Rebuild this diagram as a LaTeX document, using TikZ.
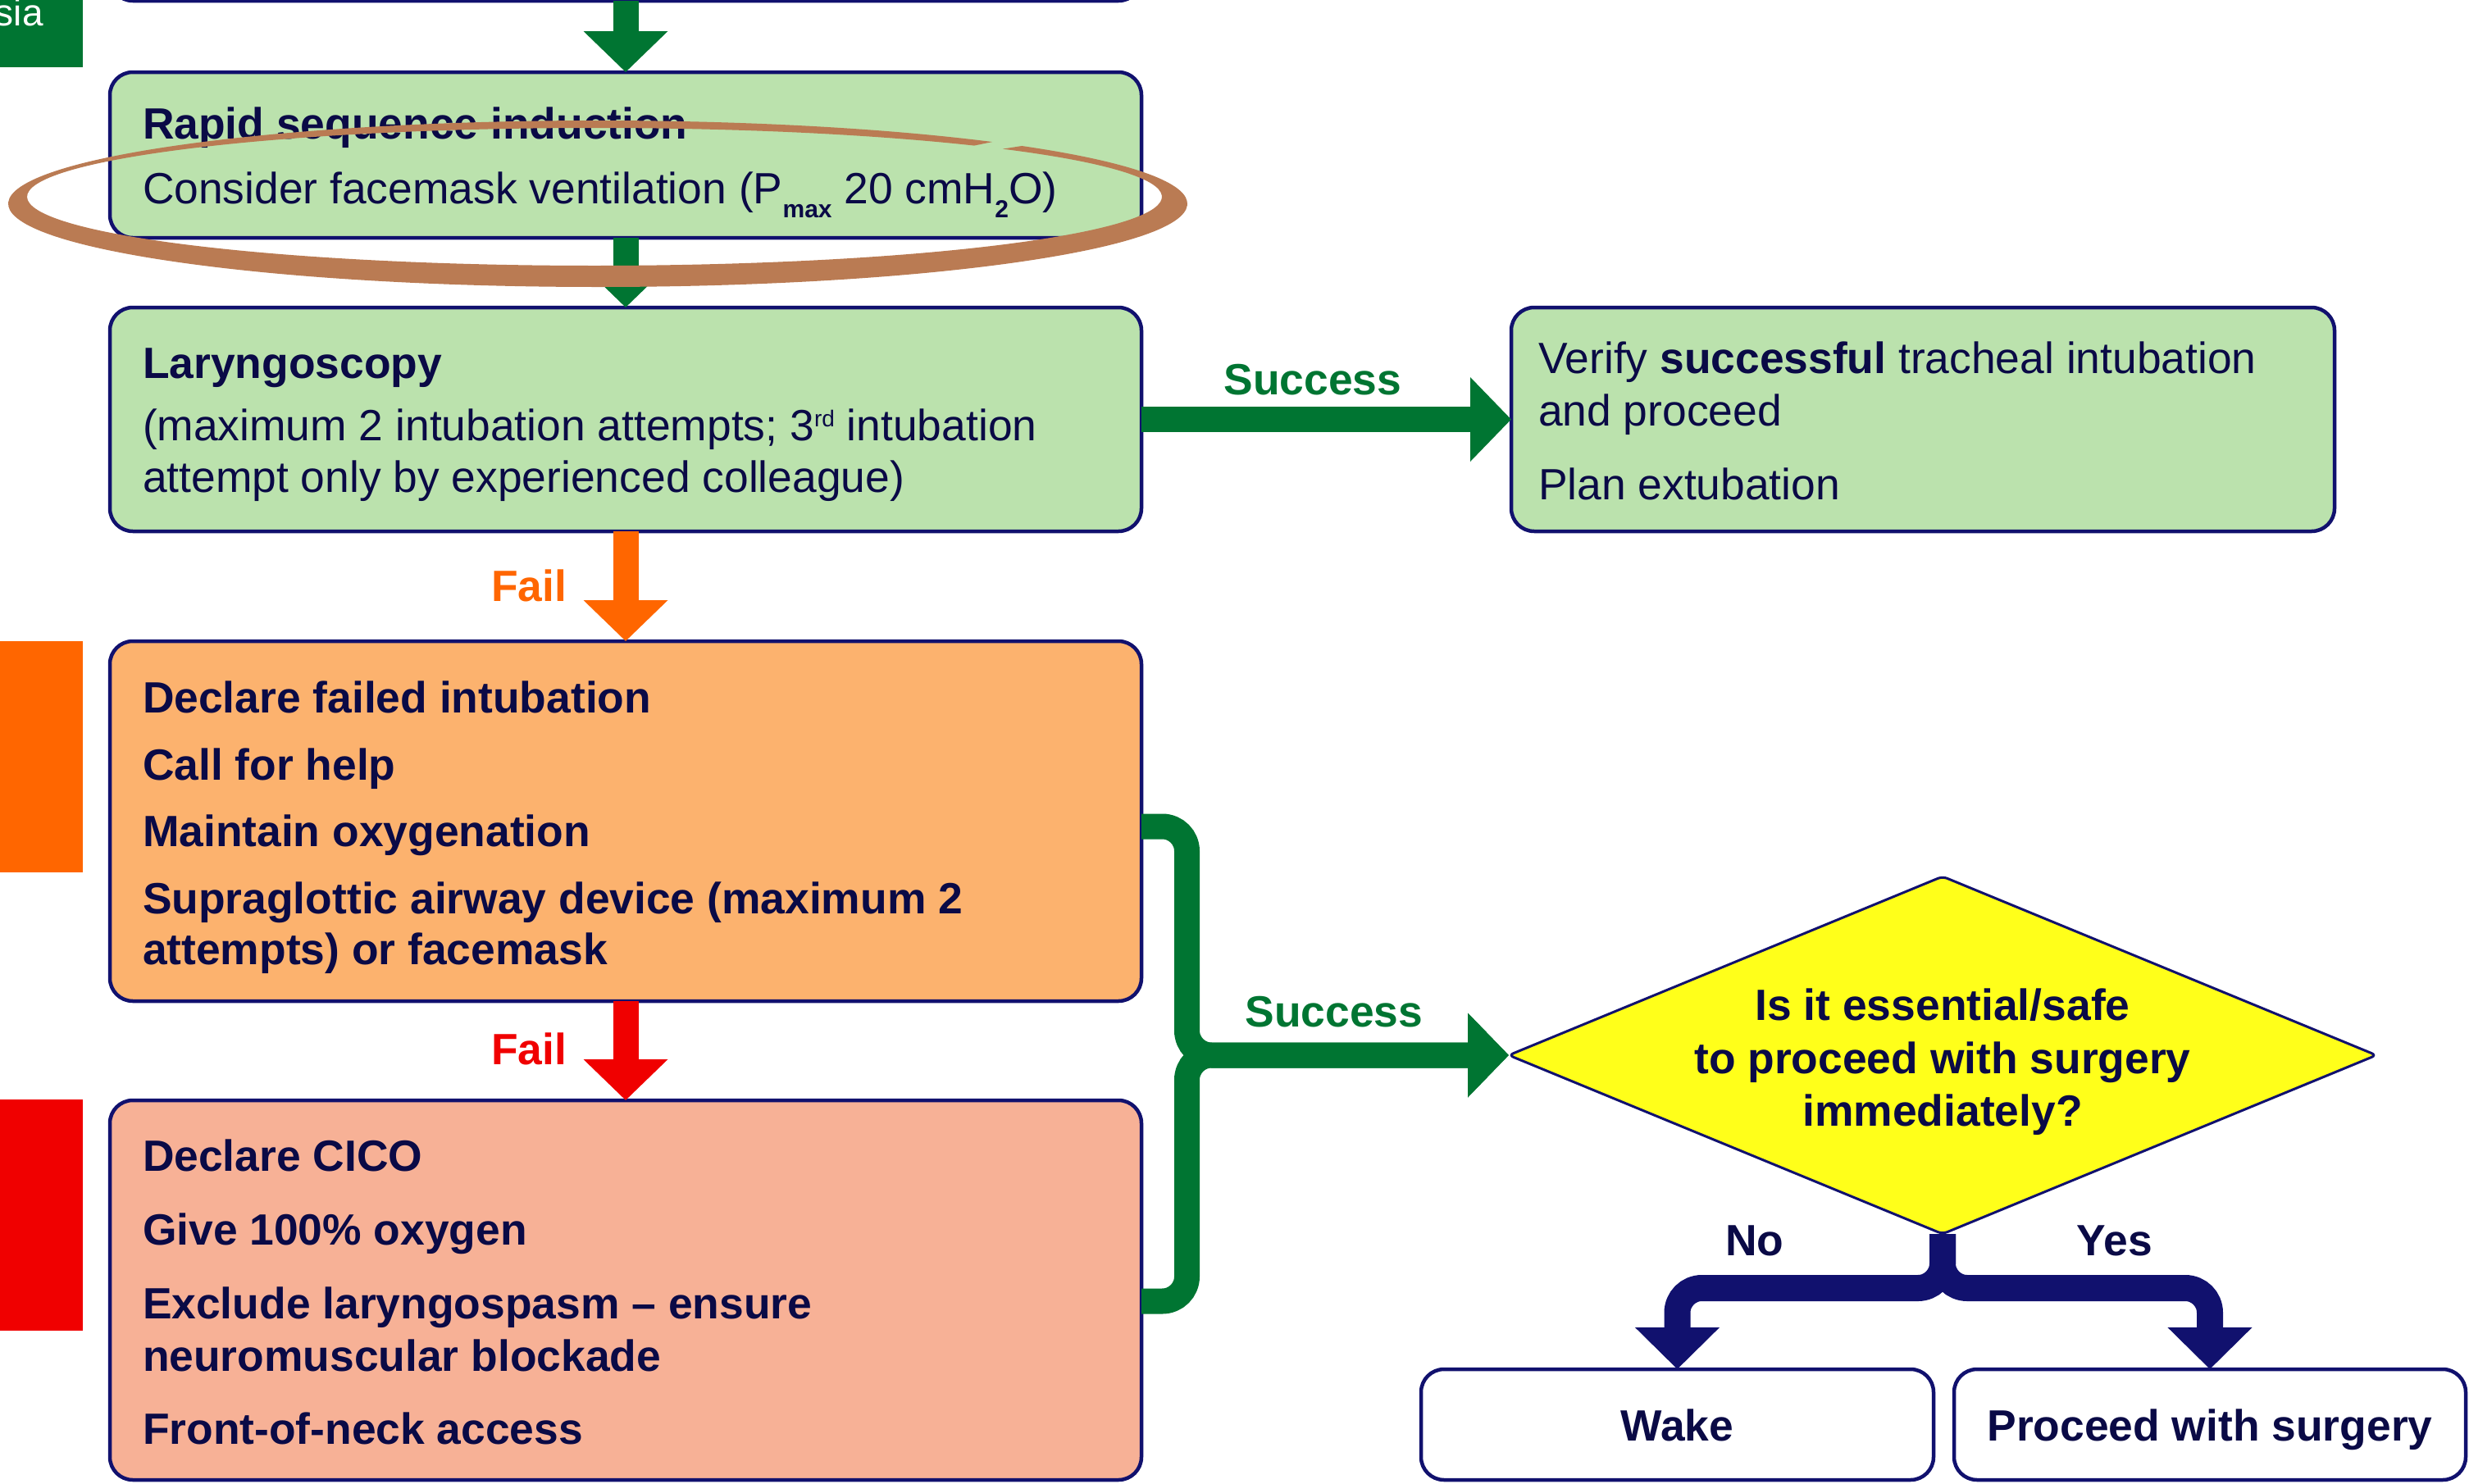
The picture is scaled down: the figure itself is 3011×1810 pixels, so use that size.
\documentclass[tikz,border=0pt]{standalone}
\usepackage{fontspec}
\setmainfont{Liberation Sans}
\usetikzlibrary{arrows.meta,shapes.geometric}
\definecolor{navy}{HTML}{11116E}
\definecolor{ink}{HTML}{0A0A46}
\definecolor{dkgreen}{HTML}{007532}
\definecolor{ltgreen}{HTML}{BBE2AD}
\definecolor{ltorange}{HTML}{FCB26E}
\definecolor{salmon}{HTML}{F7B196}
\definecolor{orng}{HTML}{FF6600}
\definecolor{redc}{HTML}{F00000}
\definecolor{yllw}{HTML}{FFFF1A}
\definecolor{brwn}{HTML}{BA7B53}
\newcommand\bodyfont{\fontsize{26.7pt}{32pt}\selectfont}
\newcommand\lowsub[1]{\raisebox{-8.5pt}{\fontsize{15pt}{15pt}\selectfont\bfseries #1}}
\newcommand\highsup[1]{\raisebox{8.5pt}{\fontsize{14pt}{14pt}\selectfont #1}}
\begin{document}
\begin{tikzpicture}[x=0.5pt,y=-0.5pt,
  box/.style={draw=navy, line width=2.25pt, rounded corners=14pt, inner sep=0pt, outer sep=0pt},
  txt/.style={anchor=base west, inner sep=0pt, outer sep=0pt, text=ink, font=\bodyfont},
  txtb/.style={txt, font=\bodyfont\bfseries},
  ctxt/.style={txtb, anchor=base},
  lbl/.style={inner sep=0pt, outer sep=0pt, font=\bodyfont\bfseries},
  garr/.style={draw=dkgreen, line width=15.5pt, -{Triangle[width=50pt,length=25pt]}},
  oarr/.style={draw=orng, line width=15.5pt, -{Triangle[width=50pt,length=25pt]}},
  rarr/.style={draw=redc, line width=15.5pt, -{Triangle[width=50pt,length=25pt]}},
  narr/.style={draw=navy, line width=16pt, rounded corners=15pt, -{Triangle[width=50pt,length=25.5pt]}}
]
\clip (0,0) rectangle (3011,1810);

% side bars
\fill[dkgreen] (0,0) rectangle (101,82);
\fill[orng] (0,782) rectangle (101,1064);
\fill[redc] (0,1341) rectangle (101,1623);
\node[anchor=base east, text=white, inner sep=0pt, font=\fontsize{23pt}{23pt}\selectfont] (sia) at (53,31) {sia};

% boxes
\node[box, fill=ltgreen, minimum width=629pt, minimum height=151pt] (top) at (763,-150) {};
\node[box, fill=ltgreen, minimum width=629pt, minimum height=101pt] (rsi) at (763,189) {};
\node[box, fill=ltgreen, minimum width=629pt, minimum height=136.5pt] (lar) at (763,511.5) {};
\node[box, fill=ltgreen, minimum width=502pt, minimum height=136.5pt] (ver) at (2345,511.5) {};
\node[box, fill=ltorange, minimum width=629pt, minimum height=219.5pt] (fail) at (763,1001.5) {};
\node[box, fill=salmon, minimum width=629pt, minimum height=231.5pt] (cico) at (763,1573.5) {};
\node[box, fill=white, minimum width=312.5pt, minimum height=67.5pt] (wake) at (2045.5,1737.5) {};
\node[box, fill=white, minimum width=312pt, minimum height=67.5pt] (surg) at (2695,1737.5) {};
\node[diamond, draw=navy, fill=yllw, line width=1.5pt, rounded corners=3pt,
      minimum width=529pt, minimum height=218pt, inner sep=0pt, outer sep=0pt] (q) at (2369,1287) {};

% texts
\node[txtb] (rsi1) at (174,169) {Rapid sequence induction};
\node[txt] (rsi2) at (174,248) {Consider facemask ventilation (P\lowsub{max} 20 cmH\lowsub{2}O)};

\node[txtb] (lar1) at (174,461) {Laryngoscopy};
\node[txt] (lar2) at (174,537) {(maximum 2 intubation attempts; 3\highsup{rd} intubation};
\node[txt] (lar3) at (174,600) {attempt only by experienced colleague)};

\node[txt] (ver1) at (1876,455) {Verify \textbf{successful} tracheal intubation};
\node[txt] (ver2) at (1876,519) {and proceed};
\node[txt] (ver3) at (1876,609) {Plan extubation};

\node[txtb] (fail1) at (174,869) {Declare failed intubation};
\node[txtb] (fail2) at (174,951) {Call for help};
\node[txtb] (fail3) at (174,1032) {Maintain oxygenation};
\node[txtb] (fail4) at (174,1114) {Supraglottic airway device (maximum 2};
\node[txtb] (fail5) at (174,1176) {attempts) or facemask};

\node[txtb] (cico1) at (174,1428) {Declare CICO};
\node[txtb] (cico2) at (174,1518) {Give 100\% oxygen};
\node[txtb] (cico3) at (174,1608) {Exclude laryngospasm – ensure};
\node[txtb] (cico4) at (174,1672) {neuromuscular blockade};
\node[txtb] (cico5) at (174,1761) {Front-of-neck access};

\node[ctxt] (q1) at (2369,1244) {Is it essential/safe};
\node[ctxt] (q2) at (2369,1309) {to proceed with surgery};
\node[ctxt] (q3) at (2369,1373) {immediately?};

\node[ctxt] (wake1) at (2045.5,1757) {Wake};
\node[ctxt] (surg1) at (2695,1757) {Proceed with surgery};

% connectors
\draw[garr] (top.south) -- (rsi.north);
\draw[garr] (rsi.south) -- (lar.north);
\draw[garr] (lar.east) -- (ver.west);
\draw[oarr] (lar.south) -- (fail.north);
\draw[rarr] (fail.south) -- (cico.north);
\draw[garr, rounded corners=15pt] ([yshift=-3.25pt]fail.east) -| (1447.5,1287) -- (q.west);
\draw[garr, rounded corners=15pt] ([yshift=-6.75pt]cico.east) -| (1447.5,1287) -- (q.west);
\draw[narr] (q.south) -- ++(0,66) -| (wake.north);
\draw[narr] (q.south) -- ++(0,66) -| (surg.north);

% labels
\node[lbl, text=dkgreen, anchor=base] (s1) at (1601,481) {Success};
\node[lbl, text=orng, anchor=base east] (f1) at (691,733) {Fail};
\node[lbl, text=redc, anchor=base east] (f2) at (691,1298) {Fail};
\node[lbl, text=dkgreen, anchor=base] (s2) at (1627,1252) {Success};
\node[lbl, text=ink, anchor=base] (no) at (2140,1531) {No};
\node[lbl, text=ink, anchor=base] (yes) at (2579,1531) {Yes};

% hand-drawn ellipse (open at top right)
\fill[brwn] ([shift={(729,248.5)}]44:359.5pt and 50.75pt)
  arc[start angle=44, end angle=-312, x radius=359.5pt, y radius=50.75pt]
  -- ([shift={(725,240)}]-312:346pt and 42pt)
  arc[start angle=-312, end angle=44, x radius=346pt, y radius=42pt]
  -- cycle;
\end{tikzpicture}
\end{document}
